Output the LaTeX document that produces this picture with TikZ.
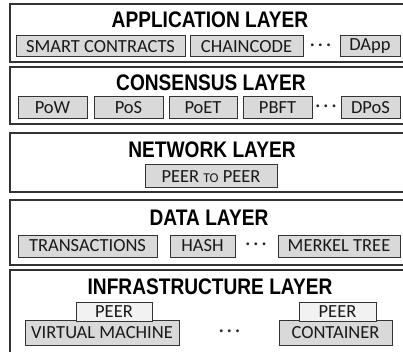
\documentclass[tikz,border=0pt]{standalone}
\usepackage{fontspec}
\setmainfont{Carlito}
\newfontfamily\titlefont[FakeStretch=0.85]{Liberation Sans}
\definecolor{edge}{HTML}{333333}
\definecolor{itemfill}{HTML}{D9D9D9}
\definecolor{peerfill}{HTML}{F2F2F2}
\begin{document}
\begin{tikzpicture}[x=1pt,y=-1pt,
  layer/.style={draw=edge, line width=1.5pt, fill=white},
  title/.style={font=\titlefont\bfseries\fontsize{22.5}{22.5}\selectfont, text=black, inner sep=0pt},
  item/.style={draw=edge, line width=1pt, fill=itemfill, inner sep=0pt,
    font=\fontsize{18.5}{18.5}\selectfont, text=black!90},
  peer/.style={item, fill=peerfill},
  more/.style={inner sep=0pt, font=\bfseries\fontsize{15}{15}\selectfont, text=black!85}
]
\useasboundingbox (0,0) rectangle (403,352);
\clip (0,0) rectangle (403,352);

% layer frames
\draw[layer] (10,4) rectangle (412,62);
\draw[layer] (10,67) rectangle (412,124);
\draw[layer] (10,133) rectangle (412,192);
\draw[layer] (10,200) rectangle (412,265);
\draw[layer] (10,270) rectangle (412,362);

% layer titles
\node[title] (tapp)   at (210,19.5)  {APPLICATION LAYER};
\node[title] (tcons)  at (211,83)    {CONSENSUS LAYER};
\node[title] (tnet)   at (212,149.5) {NETWORK LAYER};
\node[title] (tdata)  at (209,217.5) {DATA LAYER};
\node[title] (tinfra) at (210,287)   {INFRASTRUCTURE LAYER};

% application layer
\node[item, minimum width=169pt, minimum height=21pt] (sc)  at (100.5,46.5) {SMART CONTRACTS};
\node[item, minimum width=113pt, minimum height=21pt] (cc)  at (246.5,46.5) {CHAINCODE};
\node[more] (appdots) at (320.5,46.5) {·\hspace{4pt}·\hspace{4pt}·};
\node[item, minimum width=60pt, minimum height=21pt]  (dapp) at (370,46.5) {DApp};

% consensus layer
\node[item, minimum width=69pt, minimum height=22pt] (pow)  at (52.5,108)  {PoW};
\node[item, minimum width=69pt, minimum height=22pt] (pos)  at (128.5,108) {PoS};
\node[item, minimum width=68pt, minimum height=22pt] (poet) at (203,108)   {PoET};
\node[item, minimum width=69pt, minimum height=22pt] (pbft) at (277.5,108) {PBFT};
\node[more] (consdots) at (326,108) {·\hspace{4pt}·\hspace{4pt}·};
\node[item, minimum width=59pt, minimum height=22pt] (dpos) at (370.5,108) {DPoS};

% network layer
\node[item, minimum width=132pt, minimum height=23pt] (p2p) at (211,176.5)
  {PEER {\fontsize{13.5}{13.5}\selectfont TO} PEER};

% data layer
\node[item, minimum width=139pt, minimum height=22pt] (tx)     at (87.5,246)  {TRANSACTIONS};
\node[item, minimum width=65pt, minimum height=22pt]  (hash)   at (202.5,246) {HASH};
\node[more] (datadots) at (256,246) {·\hspace{4pt}·\hspace{4pt}·};
\node[item, minimum width=122pt, minimum height=22pt] (merkle) at (339,246)   {MERKEL TREE};

% infrastructure layer
\node[item, minimum width=154pt, minimum height=25pt] (vm)    at (102,332.5)   {VIRTUAL MACHINE};
\node[peer, minimum width=76pt, minimum height=19pt]  (peera) at (114,311.5)   {PEER};
\node[more] (infradots) at (229.5,333) {·\hspace{4pt}·\hspace{4pt}·};
\node[item, minimum width=113pt, minimum height=25pt] (cont)  at (335.5,332.5) {CONTAINER};
\node[peer, minimum width=77pt, minimum height=19pt]  (peerb) at (337.5,311.5)  {PEER};
\end{tikzpicture}
\end{document}
